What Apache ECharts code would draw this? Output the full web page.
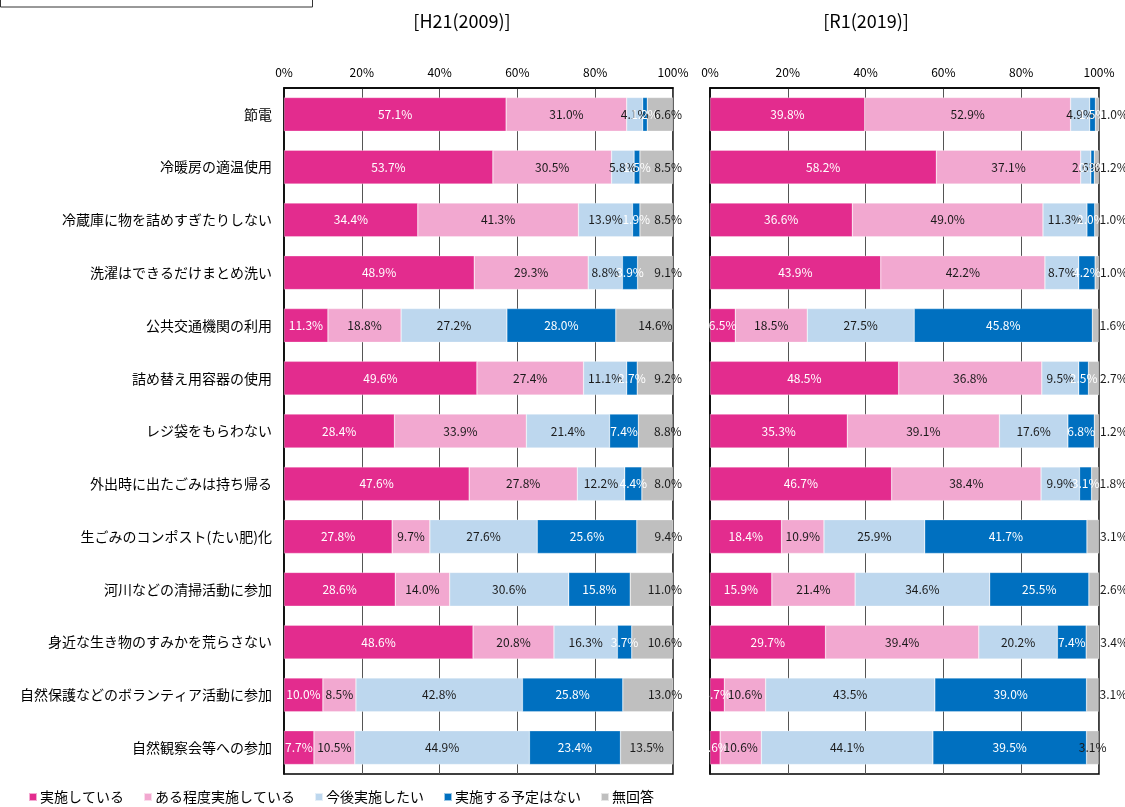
<!doctype html>
<html>
<head>
	<meta charset="utf-8">
	<script type="text/javascript" src="https://cdn.jsdelivr.net/npm/echarts@6/dist/echarts.min.js"></script>
	<style>
		html, body { margin: 0; padding: 0; background: #fff; }
		#main { width: 1125px; height: 807px; }
	</style>
</head>
<body>
<div id="main"></div>
<script>
	var categories = ['節電', '冷暖房の適温使用', '冷蔵庫に物を詰めすぎたりしない', '洗濯はできるだけまとめ洗い',
		'公共交通機関の利用', '詰め替え用容器の使用', 'レジ袋をもらわない', '外出時に出たごみは持ち帰る',
		'生ごみのコンポスト(たい肥)化', '河川などの清掃活動に参加', '身近な生き物のすみかを荒らさない',
		'自然保護などのボランティア活動に参加', '自然観察会等への参加'];
	var seriesNames = ['実施している', 'ある程度実施している', '今後実施したい', '実施する予定はない', '無回答'];
	var xTicks = [0, 20, 40, 60, 80, 100];

	// H21(2009)
	var h21Jisshi   = [57.1, 53.7, 34.4, 48.9, 11.3, 49.6, 28.4, 47.6, 27.8, 28.6, 48.6, 10.0, 7.7];
	var h21Aruteido = [31.0, 30.5, 41.3, 29.3, 18.8, 27.4, 33.9, 27.8, 9.7, 14.0, 20.8, 8.5, 10.5];
	var h21Kongo    = [4.1, 5.8, 13.9, 8.8, 27.2, 11.1, 21.4, 12.2, 27.6, 30.6, 16.3, 42.8, 44.9];
	var h21Yotei    = [1.2, 1.5, 1.9, 3.9, 28.0, 2.7, 7.4, 4.4, 25.6, 15.8, 3.7, 25.8, 23.4];
	var h21Mukaito  = [6.6, 8.5, 8.5, 9.1, 14.6, 9.2, 8.8, 8.0, 9.4, 11.0, 10.6, 13.0, 13.5];

	// R1(2019)
	var r1Jisshi   = [39.8, 58.2, 36.6, 43.9, 6.5, 48.5, 35.3, 46.7, 18.4, 15.9, 29.7, 3.7, 2.6];
	var r1Aruteido = [52.9, 37.1, 49.0, 42.2, 18.5, 36.8, 39.1, 38.4, 10.9, 21.4, 39.4, 10.6, 10.6];
	var r1Kongo    = [4.9, 2.6, 11.3, 8.7, 27.5, 9.5, 17.6, 9.9, 25.9, 34.6, 20.2, 43.5, 44.1];
	var r1Yotei    = [1.5, 0.9, 2.0, 4.2, 45.8, 2.5, 6.8, 3.1, 41.7, 25.5, 7.4, 39.0, 39.5];
	var r1Mukaito  = [1.0, 1.2, 1.0, 1.0, 1.6, 2.7, 1.2, 1.8, 3.1, 2.6, 3.4, 3.1, 3.1];

	var colors = ['#e32c8e', '#f2a8d0', '#bdd7ee', '#0070c0', '#bfbfbf'];
	var labelColors = ['#fff', '#1a1a1a', '#1a1a1a', '#fff', '#1a1a1a'];
	var FONT = '"Noto Sans CJK JP", sans-serif';

	var myChart = echarts.init(document.getElementById('main'));

	function makeSeries(panel, lists) {
		var out = [];
		for (var s = 0; s < lists.length; s++) {
			var data = lists[s].map(function (v, i) {
				var item = { value: v };
				// 無回答のラベル位置
				if (s === 4) {
					if (panel === 0) {
						if (i === 4) item.label = { position: 'insideRight', distance: 0 };
						else if (i === 12) item.label = { position: 'inside' };
					} else {
						if (i === 12) item.label = { position: 'inside' };
					}
				}
				return item;
			});
			var lbl = {
				show: true,
				color: labelColors[s],
				fontSize: 12,
				fontFamily: FONT,
				position: 'inside',
				formatter: function (p) { return p.value.toFixed(1) + '%'; }
			};
			if (s === 4) {
				if (panel === 0) { lbl.position = 'insideRight'; lbl.distance = -9; }
				else { lbl.position = 'right'; lbl.distance = 1; }
			}
			out.push({
				name: seriesNames[s],
				type: 'bar',
				stack: 'p' + panel,
				xAxisIndex: panel,
				yAxisIndex: panel,
				barCategoryGap: '36%',
				itemStyle: { color: colors[s], borderColor: 'rgba(255,255,255,0.6)', borderWidth: 0.5 },
				label: lbl,
				data: data
			});
		}
		return out;
	}

	function xAxisOf(idx) {
		return {
			type: 'value',
			gridIndex: idx,
			position: 'top',
			min: xTicks[0],
			max: xTicks[xTicks.length - 1],
			interval: xTicks[1] - xTicks[0],
			axisLine: { show: true, lineStyle: { color: '#000', width: 1.5 } },
			axisTick: { show: false },
			axisLabel: { color: '#000', fontSize: 12, fontFamily: FONT, margin: 10, formatter: '{value}%' },
			splitLine: { show: true, lineStyle: { color: '#555', width: 1 } }
		};
	}

	function yAxisOf(idx, showLabel) {
		return {
			type: 'category',
			gridIndex: idx,
			inverse: true,
			data: categories,
			axisLine: { show: true, lineStyle: { color: '#000', width: 1.5 } },
			axisTick: { show: false },
			axisLabel: { show: showLabel, color: '#000', fontSize: 14, fontFamily: FONT, margin: 12 }
		};
	}

	var option = {
		animation: false,
		backgroundColor: '#fff',
		textStyle: { fontFamily: FONT },
		graphic: [
			{ type: 'rect', shape: { x: 0.5, y: -10, width: 312, height: 17 }, style: { fill: 'none', stroke: '#333', lineWidth: 1 } },
			{ type: 'text', x: 462, y: 21, style: { text: '[H21(2009)]', fontSize: 18, fontFamily: FONT, fill: '#000', align: 'center', verticalAlign: 'middle' } },
			{ type: 'text', x: 866, y: 21, style: { text: '[R1(2019)]', fontSize: 18, fontFamily: FONT, fill: '#000', align: 'center', verticalAlign: 'middle' } }
		],
		legend: {
			data: seriesNames,
			left: 28,
			top: 789,
			padding: 0,
			icon: 'rect',
			itemWidth: 8,
			itemHeight: 8,
			itemGap: 19,
			textStyle: { color: '#000', fontSize: 14, fontFamily: FONT, lineHeight: 16, padding: [0, 0, 0, -2] }
		},
		grid: [
			{ left: 284, top: 88, width: 389, height: 686, show: true, borderColor: '#000', borderWidth: 1.5 },
			{ left: 710, top: 88, width: 389, height: 686, show: true, borderColor: '#000', borderWidth: 1.5 }
		],
		xAxis: [xAxisOf(0), xAxisOf(1)],
		yAxis: [yAxisOf(0, true), yAxisOf(1, false)],
		series: makeSeries(0, [h21Jisshi, h21Aruteido, h21Kongo, h21Yotei, h21Mukaito])
			.concat(makeSeries(1, [r1Jisshi, r1Aruteido, r1Kongo, r1Yotei, r1Mukaito]))
	};

	myChart.setOption(option);
</script>
</body>
</html>
